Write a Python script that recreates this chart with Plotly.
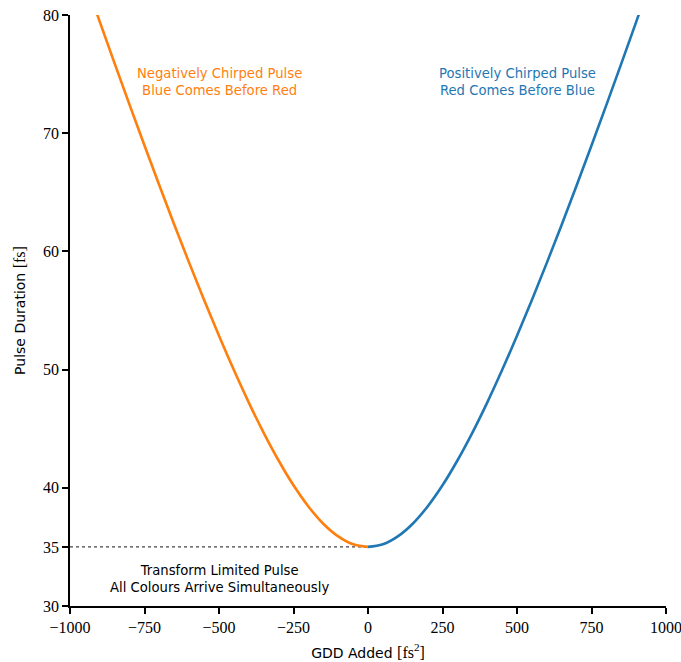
import plotly.graph_objects as go

# Group delay dispersion added (fs^2) and resulting pulse duration (fs)
gdd_neg = [-950, -900, -850, -800, -750, -700, -650, -600, -550, -500,
           -450, -400, -350, -300, -250, -200, -150, -100, -50, 0]
dur_neg = [83.00, 79.42, 75.89, 72.40, 68.96, 65.57, 62.26, 59.03, 55.89, 52.86,
           49.96, 47.21, 44.65, 42.31, 40.21, 38.42, 36.96, 35.89, 35.22, 35.00]
gdd_pos = [0, 50, 100, 150, 200, 250, 300, 350, 400, 450,
           500, 550, 600, 650, 700, 750, 800, 850, 900, 950]
dur_pos = [35.00, 35.22, 35.89, 36.96, 38.42, 40.21, 42.31, 44.65, 47.21, 49.96,
           52.86, 55.89, 59.03, 62.26, 65.57, 68.96, 72.40, 75.89, 79.42, 83.00]

transform_limit = 35.0

x_ticks = [-1000, -750, -500, -250, 0, 250, 500, 750, 1000]
x_tick_text = ["\u22121000", "\u2212750", "\u2212500", "\u2212250", "0", "250", "500", "750", "1000"]
y_ticks = [30, 35, 40, 50, 60, 70, 80]

ORANGE = "#ff7f0e"
BLUE = "#1f77b4"
SANS = "DejaVu Sans"
SERIF = "Liberation Serif"

fig = go.Figure()

# Transform-limited reference level
fig.add_trace(go.Scatter(
    x=[x_ticks[0], 0], y=[transform_limit, transform_limit],
    mode="lines", line=dict(color="#444444", width=1.1, dash="dot"),
    hoverinfo="skip", showlegend=False))

fig.add_trace(go.Scatter(
    x=gdd_neg, y=dur_neg, mode="lines",
    line=dict(color=ORANGE, width=2.6, shape="spline"), showlegend=False))
fig.add_trace(go.Scatter(
    x=gdd_pos, y=dur_pos, mode="lines",
    line=dict(color=BLUE, width=2.6, shape="spline"), showlegend=False))

note_font = 13.2
fig.add_annotation(x=-500, y=74.3, text="Negatively Chirped Pulse<br>Blue Comes Before Red",
                   showarrow=False, font=dict(family=SANS, size=note_font, color=ORANGE),
                   align="center")
fig.add_annotation(x=500, y=74.3, text="Positively Chirped Pulse<br>Red Comes Before Blue",
                   showarrow=False, font=dict(family=SANS, size=note_font, color=BLUE),
                   align="center")
fig.add_annotation(x=-500, y=32.3, text="Transform Limited Pulse<br>All Colours Arrive Simultaneously",
                   showarrow=False, font=dict(family=SANS, size=note_font, color="black"),
                   align="center")

# Units are set in a serif face, at a size close to the label text
unit_style = "font-family:Liberation Serif;font-size:16px"

fig.update_layout(
    width=681, height=662,
    margin=dict(l=70, r=15, t=15, b=56),
    plot_bgcolor="white", paper_bgcolor="white",
    xaxis=dict(
        range=[-1000, 1000], tickvals=x_ticks, ticktext=x_tick_text,
        automargin=False, ticklabeloverflow="allow",
        showgrid=False, zeroline=False, showline=True, linecolor="black", linewidth=1.5,
        ticks="outside", ticklen=6, tickwidth=1.5, tickcolor="black",
        tickfont=dict(family=SERIF, size=16, color="black"),
        title=dict(text=f"GDD Added <span style='{unit_style}'>[fs<sup>2</sup>]</span>",
                   font=dict(family=SANS, size=14, color="black"), standoff=13),
    ),
    yaxis=dict(
        range=[30, 80], tickvals=y_ticks,
        automargin=False, ticklabeloverflow="allow",
        showgrid=False, zeroline=False, showline=True, linecolor="black", linewidth=1.5,
        ticks="outside", ticklen=6, tickwidth=1.5, tickcolor="black",
        tickfont=dict(family=SERIF, size=16, color="black"),
        title=dict(text=f"Pulse Duration <span style='{unit_style}'>[fs]</span>",
                   font=dict(family=SANS, size=14, color="black"), standoff=14),
    ),
)

fig.write_html("out.html")
